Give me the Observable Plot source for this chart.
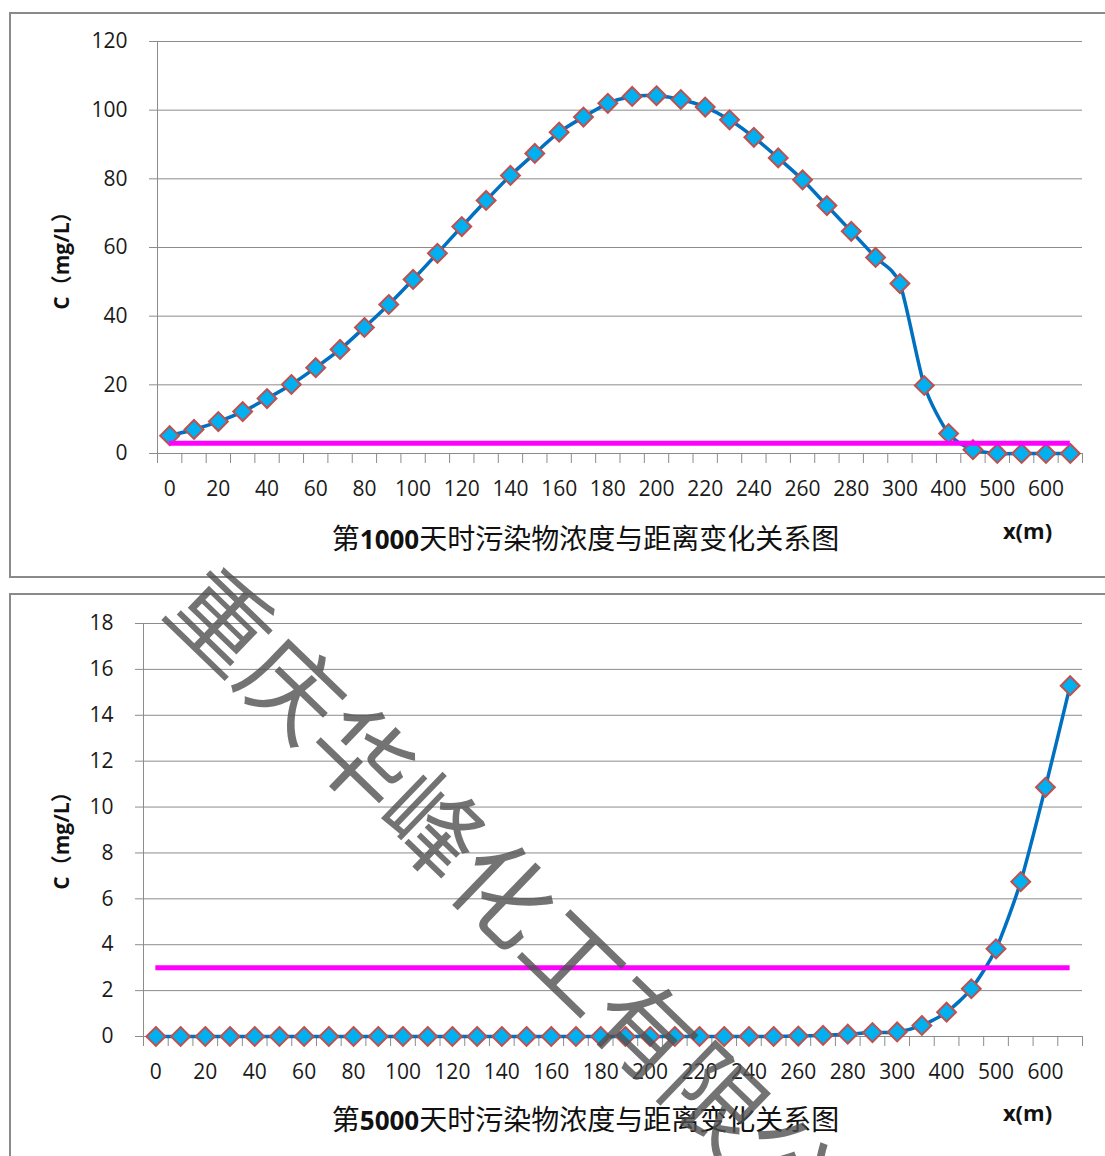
<!DOCTYPE html>
<html>
<head>
<meta charset="utf-8">
<script src="https://cdn.jsdelivr.net/npm/d3@7"></script>
<script src="https://cdn.jsdelivr.net/npm/@observablehq/plot@0.6"></script>
<style>
html, body { margin: 0; padding: 0; background: #fff; width: 1105px; height: 1156px; overflow: hidden; }
.box { position: absolute; left: 9px; border: 2px solid #8a8a8a; background: #fff; overflow: hidden; }
#box1 { top: 12px; width: 1100px; height: 562px; }
#box2 { top: 593px; width: 1100px; height: 600px; }
#wm { position: absolute; left: 0; top: 0; pointer-events: none; }
</style>
</head>
<body>
<div id="box1" class="box"></div>
<div id="box2" class="box"></div>
<svg id="wm" width="1105" height="1156"></svg>
<script>
// ---- data ----
const categories = [0, 10, 20, 30, 40, 50, 60, 70, 80, 90, 100, 110, 120, 130, 140, 150, 160, 170, 180, 190, 200, 210, 220, 230, 240, 250, 260, 270, 280, 290, 300, 350, 400, 450, 500, 550, 600, 650];
const conc1000 = [5.2, 7.0, 9.3, 12.2, 16.0, 20.1, 25.0, 30.3, 36.7, 43.4, 50.7, 58.3, 66.1, 73.7, 81.0, 87.4, 93.6, 98.0, 102.0, 104.0, 104.2, 103.1, 100.9, 97.2, 92.1, 86.1, 79.7, 72.2, 64.7, 57.1, 49.5, 19.8, 5.8, 1.1, 0, 0, 0, 0];
const conc5000 = [0, 0, 0, 0, 0, 0, 0, 0, 0, 0, 0, 0, 0, 0, 0, 0, 0, 0, 0, 0, 0, 0, 0, 0, 0, 0, 0.02, 0.05, 0.1, 0.17, 0.2, 0.48, 1.06, 2.08, 3.82, 6.75, 10.86, 15.29];
const limit = 3;
const yTicks1000 = [0, 20, 40, 60, 80, 100, 120];
const yTicks5000 = [0, 2, 4, 6, 8, 10, 12, 14, 16, 18];
const title1000 = "第1000天时污染物浓度与距离变化关系图";
const title5000 = "第5000天时污染物浓度与距离变化关系图";
const yLabel = "C（mg/L）";
const xLabel = "x(m)";
const watermark = "重庆华峰化工有限公司";

const FONT = "'Open Sans','Noto Sans CJK SC',sans-serif";
const GRAY = "#8c8c8c";

function chart(o) {
  const n = categories.length;
  const rows = categories.map((c, i) => ({i, c, v: o.values[i]}));
  const boundaries = d3.range(n + 1).map(k => k - 0.5);
  const yMax = o.yTicks[o.yTicks.length - 1];
  const svg = Plot.plot({
    width: o.width, height: o.height,
    marginLeft: o.marginLeft, marginRight: o.marginRight, marginTop: o.marginTop, marginBottom: o.marginBottom,
    style: {fontFamily: FONT, fontSize: "21px", color: "#1a1a1a", background: "transparent", overflow: "visible"},
    x: {type: "linear", domain: [-0.5, n - 0.5]},
    y: {domain: [0, yMax]},
    marks: [
      Plot.gridY(o.yTicks, {stroke: GRAY, strokeOpacity: 1, strokeWidth: 1}),
      Plot.ruleX([-0.5], {stroke: GRAY, strokeWidth: 1}),
      Plot.axisY(o.yTicks, {tickSize: 8, tickPadding: 22, stroke: GRAY, strokeOpacity: 1, fontSize: 21, label: null}),
      Plot.axisX(boundaries, {tickSize: 10, tickFormat: () => "", stroke: GRAY, strokeOpacity: 1, label: null}),
      Plot.axisX(d3.range(0, n, 2), {tickSize: 0, tickPadding: 28, tickFormat: i => String(categories[i]), fontSize: 21, label: null}),
      Plot.line(rows, {x: "i", y: "v", stroke: "#0070C0", strokeWidth: 3.5, curve: "cardinal", tension: 0.3}),
      Plot.dot(rows, {x: "i", y: "v", symbol: "diamond2", r: 8.5, fill: "#00B0F0", stroke: "#C0504D", strokeWidth: 2}),
      Plot.ruleY([limit], {x1: 0, x2: n - 1, stroke: "#FF00FF", strokeWidth: 5}),
      Plot.text([yLabel], {text: d => d, frameAnchor: "left", textAnchor: "middle", lineAnchor: "middle", rotate: -90, dx: o.yLabelDx, dy: o.yLabelDy, fontSize: 21, fontWeight: "bold", fill: "#111"}),
      Plot.text([o.title], {text: d => d, frameAnchor: "bottom", textAnchor: "middle", lineAnchor: "middle", dx: o.titleDx, dy: o.titleDy, fontSize: 28, fill: "#111"}),
      Plot.text([xLabel], {text: d => d, frameAnchor: "bottom-right", textAnchor: "middle", lineAnchor: "middle", dx: -55, dy: o.xLabelDy, fontSize: 22, fontWeight: "bold", fill: "#111"})
    ]
  });
  // bold digits inside the title
  d3.select(svg).selectAll("text").filter(function () { return this.textContent === o.title; }).each(function () {
    const t = d3.select(this);
    t.text(null);
    for (const part of o.title.split(/(\d+)/)) {
      if (!part) continue;
      const ts = t.append("tspan").text(part);
      if (/^\d+$/.test(part)) ts.attr("font-weight", "bold").attr("font-size", 26);
    }
  });
  return svg;
}

document.getElementById("box1").append(chart({
  values: conc1000, yTicks: yTicks1000, title: title1000,
  width: 1100, height: 562, marginLeft: 146, marginRight: 29, marginTop: 27, marginBottom: 123,
  yLabelDx: -95, yLabelDy: 8, titleDx: -34.5, titleDy: 87, xLabelDy: 78
}));
document.getElementById("box2").append(chart({
  values: conc5000, yTicks: yTicks5000, title: title5000,
  width: 1100, height: 600, marginLeft: 132, marginRight: 29, marginTop: 28, marginBottom: 159,
  yLabelDx: -81, yLabelDy: 5.5, titleDx: -27.5, titleDy: 85, xLabelDy: 77
}));

// watermark overlay
d3.select("#wm").append("text")
  .attr("transform", "translate(161,613) rotate(44)")
  .attr("font-family", "'Noto Sans CJK SC'")
  .attr("font-weight", 400)
  .attr("font-size", 98)
  .attr("fill", "#505050")
  .attr("fill-opacity", 0.8)
  .text(watermark);
</script>
</body>
</html>
